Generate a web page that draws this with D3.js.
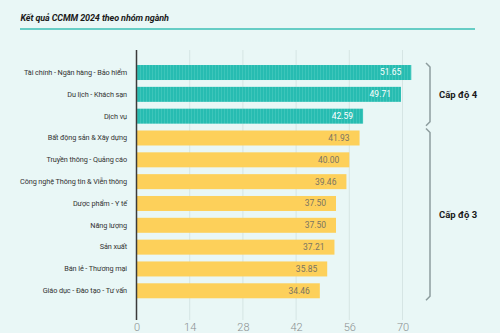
<!DOCTYPE html>
<html><head><meta charset="utf-8">
<script src="https://cdn.jsdelivr.net/npm/d3@7"></script>
<style>
html,body{margin:0;padding:0;background:#e9f7f6;}
svg{display:block;font-family:Roboto, "Noto Sans", sans-serif;}
</style></head>
<body>
<svg id="c" width="500" height="333"></svg>
<script>
const categories = ["Tài chính  - Ngân hàng -  Bảo hiểm","Du lịch - Khách sạn","Dịch vụ","Bất động sản & Xây dựng","Truyền thông - Quảng cáo","Công nghệ Thông tin & Viễn thông","Dược phẩm - Y tế","Năng lượng","Sản xuất","Bán lẻ - Thương mại","Giáo dục - Đào tạo - Tư vấn"];
const values = [51.65,49.71,42.59,41.93,40.00,39.46,37.50,37.50,37.21,35.85,34.46];
const levels = ["Cấp độ 4","Cấp độ 4","Cấp độ 4","Cấp độ 3","Cấp độ 3","Cấp độ 3","Cấp độ 3","Cấp độ 3","Cấp độ 3","Cấp độ 3","Cấp độ 3"];
const groups = ["Cấp độ 4","Cấp độ 3"];
const tickValues = [0,10,20,30,40,50];
const tickLabels = ["0","14","28","42","56","70"];
const title = "Kết quả CCMM 2024 theo nhóm ngành";

const svg = d3.select("#c");
const color = d3.scaleOrdinal().domain(groups).range(["#27bcb1","#fdd05a"]);

// pattern for teal bars
const defs = svg.append("defs");
const pat = defs.append("pattern").attr("id","stripe").attr("patternUnits","userSpaceOnUse")
  .attr("width",3).attr("height",10);
pat.append("rect").attr("width",3).attr("height",10).attr("fill","#27bcb1");
pat.append("rect").attr("x",2).attr("width",1).attr("height",10).attr("fill","#3dc5ba");

// title
svg.append("text").attr("x",20.5).attr("y",21).text(title)
  .attr("font-size",9).attr("letter-spacing",-0.1).attr("font-weight",700).attr("font-style","italic").attr("fill","#1a1a1a");
svg.append("line").attr("x1",20).attr("x2",475).attr("y1",29).attr("y2",29)
  .attr("stroke","#66cdc5").attr("stroke-width",2);

const x = d3.scaleLinear().domain([0,50]).range([136.5,402.5]);
const y = d3.scaleBand().domain(categories).range([61.6,301.7]).paddingInner(0.313).paddingOuter(0.1565);

// gridlines
svg.append("g").selectAll("line").data(tickValues.slice(1)).join("line")
  .attr("x1",d=>x(d)).attr("x2",d=>x(d)).attr("y1",50).attr("y2",320)
  .attr("stroke","#d6e5e4").attr("stroke-width",1);

// x axis labels
const xAxis = d3.axisBottom(x).tickValues(tickValues).tickFormat((d,i)=>tickLabels[i]).tickSize(0).tickPadding(0);
const gx = svg.append("g").attr("transform","translate(0,323.5)").call(xAxis);
gx.select(".domain").remove();
gx.selectAll("text").attr("font-size",11).attr("fill","#8a8f90").attr("dy","0.71em")
  .attr("font-family","Roboto, sans-serif").attr("font-weight",300);

// bars
const data = categories.map((c,i)=>({c, v:values[i], g:levels[i]}));
svg.append("g").selectAll("rect").data(data).join("rect")
  .attr("x",x(0)).attr("y",d=>y(d.c)).attr("height",y.bandwidth())
  .attr("width",d=>x(d.v)-x(0))
  .attr("fill",d=>d.g===groups[0] ? "url(#stripe)" : color(d.g));

// value labels
svg.append("g").selectAll("text").data(data).join("text")
  .attr("x",d=>x(d.v)-10).attr("y",d=>y(d.c)+y.bandwidth()/2).attr("dy","0.35em")
  .attr("text-anchor","end").attr("font-size",8.5)
  .attr("fill",d=>d.g===groups[0] ? "#ffffff" : "#7a7462")
  .text(d=>d.v.toFixed(2));

// category labels
const yAxis = d3.axisLeft(y).tickSize(0).tickPadding(9.5);
const gy = svg.append("g").attr("transform",`translate(${x(0)},0)`).call(yAxis);
gy.select(".domain").remove();
gy.selectAll("text").attr("font-size",7.3).attr("letter-spacing",-0.1).attr("fill","#333").attr("font-family","Roboto, sans-serif");

// vertical axis line
svg.append("line").attr("x1",x(0)).attr("x2",x(0)).attr("y1",50).attr("y2",320)
  .attr("stroke","#3a3a3a").attr("stroke-width",1.5);

// brackets
groups.forEach(g=>{
  const items = data.filter(d=>d.g===g);
  const top = y(items[0].c) - 2;
  const bot = y(items[items.length-1].c) + y.bandwidth() + 2;
  const bx = 430;
  const path = `M${bx-4},${top} L${bx},${top+4} L${bx},${bot-4} L${bx-4},${bot}`;
  svg.append("path").attr("d",path).attr("fill","none").attr("stroke","#8d9d9e").attr("stroke-width",1.5);
  svg.append("text").attr("x",439).attr("y",(top+bot)/2).attr("dy","0.35em")
    .attr("font-size",9.5).attr("font-weight",700).attr("fill","#1a1a1a").text(g);
});
</script>
</body></html>
